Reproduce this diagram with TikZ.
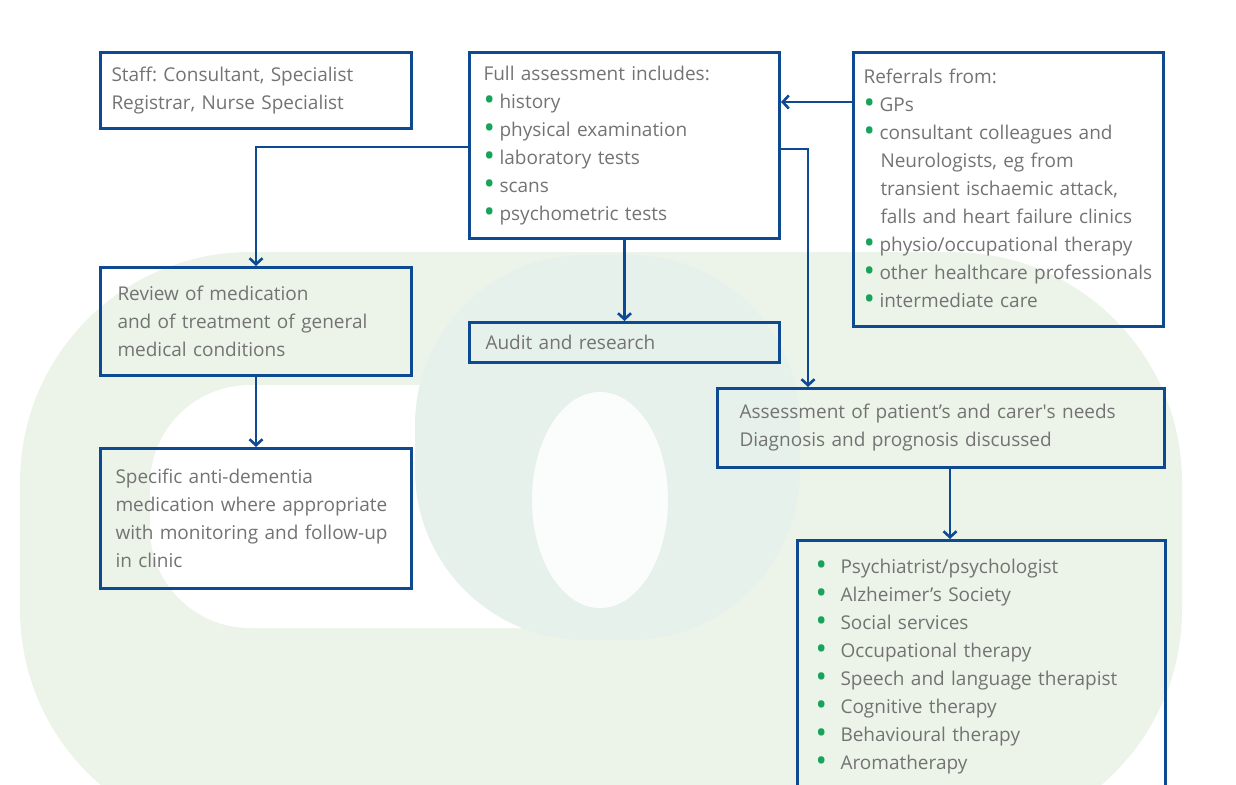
\documentclass[tikz,border=0pt]{standalone}
\usepackage{fontspec}
\setmainfont{Open Sans}
\usetikzlibrary{arrows.meta}
\definecolor{frameblue}{HTML}{0E4A92}
\definecolor{txtgray}{HTML}{737373}
\definecolor{dotgreen}{HTML}{17A35A}
\definecolor{bggreen}{HTML}{ECF4E9}
\definecolor{bgteal}{HTML}{E7F1EC}
\newcommand{\gdot}{\raisebox{-1.6pt}{\scalebox{1.6}{\textcolor{dotgreen}{\textbullet}}}}
\newcommand{\bul}{\makebox[16pt][l]{\gdot}}
\newcommand{\wbul}{\makebox[25pt][l]{\gdot}}
\frenchspacing
\tikzset{
  box/.style={draw=frameblue, line width=3pt, anchor=north west, align=left,
    inner ysep=0pt, text=txtgray, font=\fontsize{19}{28}\selectfont},
  link/.style={draw=frameblue, line width=2.6pt,
    -{Straight Barb[length=6pt,width=13pt,line width=2.6pt]}}
}
\begin{document}
\begin{tikzpicture}[x=1pt,y=-1pt]
  \useasboundingbox (0,0) rectangle (1236,784);
  \clip (0,0) rectangle (1236,784);
  % faint logo behind the chart
  \fill[bggreen, rounded corners=230] (20,252) rectangle (1182,840);
  \fill[white, rounded corners=100] (150,385) rectangle (640,628);
  \fill[bgteal, rounded corners=170] (415,255) rectangle (800,640);
  \fill[white!85!bgteal] (600,500) ellipse [x radius=68, y radius=108];

  % boxes
  \node[box, minimum width=311, minimum height=76, inner xsep=11, text width=289]
    (staff) at (99,51) {Staff: Consultant, Specialist\\Registrar, Nurse Specialist};
  \node[box, minimum width=310, minimum height=186, inner xsep=14, text width=282]
    (full) at (468,51) {Full assessment includes:\\
      \bul history\\ \bul physical examination\\ \bul laboratory tests\\
      \bul scans\\ \bul psychometric tests};
  \node[box, minimum width=310, minimum height=274, inner xsep=10, text width=290]
    (refer) at (852,51) {Referrals from:\\
      \bul GPs\\
      \bul consultant colleagues and\\
      \hspace*{17pt}Neurologists, eg from\\
      \hspace*{17pt}transient ischaemic attack,\\
      \hspace*{17pt}falls and heart failure clinics\\
      \bul physio/occupational therapy\\
      \bul other healthcare professionals\\
      \bul intermediate care};
  \node[box, minimum width=311, minimum height=108, inner xsep=17, text width=277]
    (review) at (99,266) {Review of medication\\and of treatment of general\\medical conditions};
  \node[box, minimum width=310, minimum height=40, inner xsep=16, text width=278]
    (audit) at (468,321) {Audit and research};
  \node[box, minimum width=447, minimum height=79, inner xsep=22, text width=403]
    (assess) at (716,387) {Assessment of patient’s and carer\textquotesingle s needs\\Diagnosis and prognosis discussed};
  \node[box, minimum width=311, minimum height=140, inner xsep=15, text width=281]
    (specific) at (99,447) {Specific anti-dementia\\medication where appropriate\\with monitoring and follow-up\\in clinic};
  \node[box, minimum width=368, minimum height=252, inner xsep=18, text width=332]
    (services) at (796,539) {\wbul Psychiatrist/psychologist\\
      \wbul Alzheimer’s Society\\ \wbul Social services\\
      \wbul Occupational therapy\\ \wbul Speech and language therapist\\
      \wbul Cognitive therapy\\ \wbul Behavioural therapy\\ \wbul Aromatherapy};

  % connectors
  \draw[link] (refer.west |- 0,102) -- (full.east |- 0,102);
  \draw[link] (full.west |- 0,147) -| (review.north);
  \draw[link] (full.south) -- (audit.north);
  \draw[link] (full.east |- 0,149) -| (assess.north -| 808,0);
  \draw[link] (review.south) -- (specific.north);
  \draw[link] (assess.south -| 950,0) -- (services.north -| 950,0);
\end{tikzpicture}
\end{document}
